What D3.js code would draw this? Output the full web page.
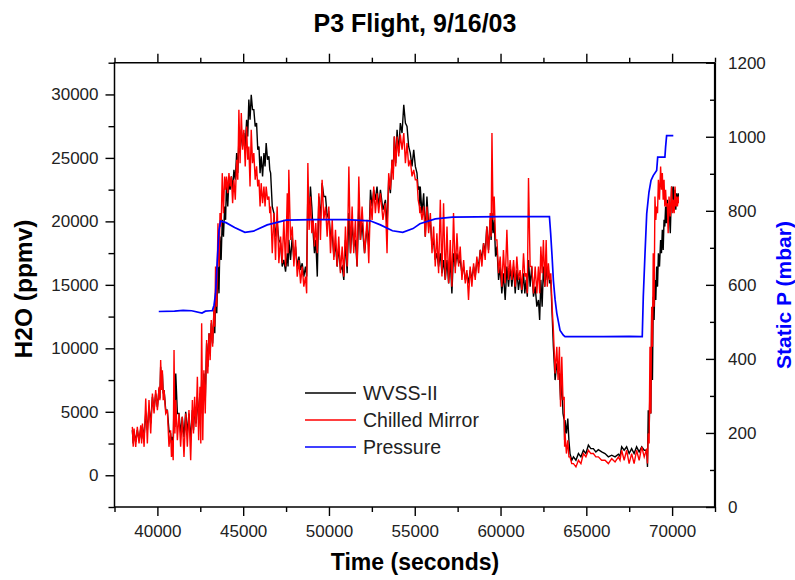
<!DOCTYPE html>
<html>
<head>
<meta charset="utf-8">
<script src="https://cdn.jsdelivr.net/npm/d3@7"></script>
<style>
  body { margin: 0; background: #fff; }
  text { font-family: "Liberation Sans", Arial, sans-serif; }
</style>
</head>
<body>
<div id="chart"></div>
<script>
// Sample times (seconds). Each sample keeps the top and bottom of the noisy trace there.
const time = [
  38540, 38640, 38830, 39030, 39130, 39320, 39510, 39710, 39900, 40100, 40190, 40290, 40390, 40580, 40770, 40870, 40970, 41070, 41260, 41450,
  41650, 41840, 42040, 42170, 42330, 42480, 42580, 42710, 42870, 43010, 43140, 43300, 43390, 43530, 43650, 43780, 43920, 44030, 44170, 44310,
  44460, 44620, 44750, 44890, 45040, 45200, 45330, 45470, 45620, 45780, 45920, 46050, 46210, 46340, 46500,
  46600, 46790, 46980, 47180, 47370, 47570, 47660, 47860, 48050, 48250, 48440, 48630, 48770, 48920, 49080, 49230, 49410, 49600, 49800, 49990,
  50190, 50380, 50570, 50770, 50960, 51160, 51350, 51540, 51740, 51930, 52220, 52420, 52610, 52800, 53000, 53290, 53480, 53680, 53810, 53970,
  54160, 54360, 54550, 54740, 54940, 55130, 55270,
  55320, 55520, 55710, 55910, 56100, 56290, 56490, 56680, 56880, 57070, 57260, 57460, 57650, 57850, 58040, 58230, 58430, 58620, 58820, 59010,
  59200, 59400, 59500, 59630, 59790, 59980, 60170, 60370, 60560, 60760, 60950, 61140, 61340, 61490, 61630, 61820, 62020, 62210, 62350, 62500,
  62660, 62790, 62930, 63080, 63280, 63430, 63570, 63710,
  63760, 63920, 64050, 64250, 64540, 64830, 65120, 65410, 65700, 66090, 66480, 66870, 67060, 67350, 67640, 67930, 68230, 68520, 68610, 68710,
  68810, 68900, 69000, 69100, 69200, 69330, 69430, 69530, 69620, 69720, 69820, 69970, 70070, 70170, 70260, 70360
]

// WVSS-II (ppmv)
const wvssHigh = [
  3550, 3420, 3550, 3680, 3810, 4870, 5390, 6180, 6440, 6840, 8550, 8020, 6710, 5130, 3290, 3020, 5920, 8020, 4870, 4600,
  5000, 4870, 5130, 5390, 6180, 6440, 7500, 8020, 10390, 11180, 11970, 13020, 14330, 16440, 18800, 20120, 21170, 23280, 23280, 23540,
  24060, 25380, 26430, 27220, 26960, 28010, 29590, 29980, 28800, 27750, 25900, 25120, 25380, 26170, 25120,
  23800, 20650, 19860, 18280, 16960, 17490, 18540, 18800, 18020, 17230, 16700, 16440, 22490, 22750, 19070, 18540, 21960, 23010, 21960, 20650,
  19070, 18280, 18020, 16440, 18540, 20650, 19860, 18540, 21170, 19860, 19590, 22490, 22490, 22750, 22490, 21700, 23280, 24850, 26690, 27220,
  27750, 29190, 27480, 25380, 25640, 23800, 22750,
  22750, 22220, 21960, 20120, 18540, 17490, 17490, 16960, 16960, 16960, 17490, 17490, 16960, 16440, 15910, 16170, 16440, 16960, 17750, 18280,
  19590, 20120, 20650, 20120, 18020, 16440, 15910, 16440, 16440, 16440, 16170, 15650, 15910, 15390, 16960, 16440, 14860, 13810, 15390, 16440,
  16440, 16170, 15390, 10130, 8810, 8020, 7500, 4340,
  4340, 4470, 1710, 1450, 1710, 1970, 2370, 2100, 2020, 1710, 1580, 1660, 2240, 2240, 2100, 2240, 2240, 1970, 5130, 6970,
  12760, 14070, 15390, 16440, 17490, 18540, 19330, 20120, 21170, 21700, 21170, 22750, 22750, 22490, 22220, 22220
]
const wvssLow = [
  2500, 2630, 2760, 2890, 3020, 3550, 4080, 5130, 5390, 6050, 6970, 6440, 5130, 3550, 2500, 2240, 3810, 4870, 3290, 3020,
  3290, 2760, 3550, 4080, 4340, 4870, 5130, 5920, 8550, 9600, 10390, 11180, 12760, 14330, 16960, 18800, 20120, 21170, 22490, 22490,
  23280, 23800, 25380, 25900, 25900, 26690, 28010, 28800, 27480, 25640, 23800, 23540, 24330, 24850, 24060,
  21170, 18800, 18540, 16440, 16040, 16440, 16960, 16960, 16440, 16170, 15650, 15650, 20120, 21170, 17490, 15650, 20120, 21960, 20380, 18800,
  17230, 16440, 16170, 15390, 15910, 17490, 18020, 16440, 18540, 17490, 18020, 21170, 21700, 21170, 20910, 19590, 22220, 23800, 24590, 25380,
  26960, 27750, 25900, 24330, 24330, 22490, 21170,
  20650, 18800, 19590, 18020, 16960, 16440, 15910, 15390, 15120, 14330, 16440, 16700, 15910, 15390, 15120, 15390, 15650, 16440, 16960, 17490,
  17750, 18540, 19070, 17230, 15390, 14330, 13810, 14860, 14860, 14330, 14600, 14330, 14330, 14070, 14860, 14070, 13280, 12230, 13280, 14860,
  15390, 15120, 12760, 7500, 8020, 5920, 4870, 2760,
  3290, 2760, 1180, 1180, 1450, 1710, 2100, 1840, 1840, 1450, 1450, 1500, 1970, 1710, 1710, 1840, 1970, 660, 3290, 4870,
  7500, 12230, 13810, 14860, 16440, 17490, 17750, 19590, 19860, 20120, 19070, 21700, 21170, 20910, 21430, 21700
]

// Chilled Mirror (ppmv)
const mirrorHigh = [
  3810, 3680, 3810, 3940, 4080, 6050, 5920, 6440, 6710, 6970, 9070, 8280, 6710, 5130, 3550, 2760, 9860, 5920, 4870, 4600,
  4870, 5130, 5920, 6180, 7760, 6970, 11970, 8280, 10650, 11180, 12230, 13280, 16440, 19860, 20650, 23800, 23540, 23540, 23800, 23540,
  23280, 24850, 28800, 28540, 27220, 27480, 25900, 27220, 25380, 24330, 23280, 23010, 22750, 22750, 21960,
  21170, 20650, 21170, 18800, 20120, 22220, 24060, 19590, 18540, 16960, 16440, 15650, 24590, 21960, 20120, 19860, 22220, 23280, 21170, 21170,
  20120, 19330, 18800, 18020, 19590, 24330, 21170, 20120, 23540, 21170, 20120, 21700, 22750, 22220, 22220, 21430, 23800, 24850, 26690, 26690,
  26830, 26960, 26170, 24850, 24060, 23280, 21170,
  21170, 21170, 21170, 20650, 19590, 19070, 21700, 21430, 19590, 18540, 20650, 19070, 18020, 16960, 16170, 16440, 16700, 17230, 17750, 18280,
  19590, 20650, 26960, 21960, 18540, 17230, 17750, 19330, 16960, 16960, 17230, 16170, 17490, 15910, 23410, 16440, 16440, 16440, 18020, 18540,
  18540, 16700, 15910, 11440, 10130, 10130, 9340, 6180,
  3290, 2760, 1450, 920, 1180, 1710, 1970, 1710, 1450, 1180, 1310, 1450, 1970, 1970, 1710, 1970, 2240, 2100, 3290, 10130,
  13280, 17490, 21960, 21170, 23280, 24330, 23800, 23280, 22490, 21430, 21960, 22750, 21700, 22750, 21960, 21960
]
const mirrorLow = [
  2240, 2240, 2500, 2500, 2240, 2500, 3290, 4870, 5130, 5920, 6710, 5920, 4870, 2240, 1450, 1180, 3290, 2760, 2240, 1450,
  2240, 1180, 3290, 3810, 2760, 2500, 2760, 4870, 8020, 9070, 10130, 11700, 13280, 16440, 19590, 20650, 22490, 22220, 22750, 21430,
  21700, 23280, 24590, 25640, 24330, 24850, 22750, 24590, 23280, 22750, 21170, 21430, 21170, 21700, 20650,
  17490, 16960, 16700, 16700, 16440, 17490, 18540, 16440, 15650, 15120, 14860, 14330, 19330, 19070, 18020, 17490, 18540, 20120, 18800, 17490,
  16960, 16440, 15910, 15650, 16440, 17490, 17490, 16440, 18540, 17490, 16700, 20120, 20650, 20650, 20120, 17490, 22490, 23280, 24330, 25120,
  25640, 24590, 24330, 23540, 23280, 21700, 20650,
  20120, 18800, 19070, 17490, 16440, 15910, 15650, 15390, 15120, 14860, 15910, 16440, 15390, 15120, 13810, 14860, 15390, 15910, 16440, 16960,
  17490, 18800, 20120, 18540, 15910, 14860, 15120, 15390, 15390, 14860, 15390, 14600, 15650, 14330, 16440, 14330, 14330, 14330, 15910, 14860,
  14860, 15390, 13280, 8020, 7500, 5390, 5920, 2240,
  1710, 1450, 920, 660, 920, 1450, 1710, 1450, 1180, 920, 1050, 1180, 1180, 920, 920, 1180, 1450, 920, 2500, 4870,
  10130, 13280, 20120, 20650, 21700, 22490, 21700, 21170, 21170, 19070, 20380, 20650, 20650, 21170, 21170, 21430
]

// Static pressure (mbar)
const presTime = [
  40080, 41000, 41500, 42000, 42600, 42800, 43100, 43200, 43300, 43390, 43490, 43590, 43680, 44000, 44500, 45100, 45600, 46400, 47500, 49000,
  51000, 52400, 53000, 53700, 54300, 54900, 55300, 56200, 57200, 60000, 62850, 62920, 63000, 63080, 63180, 63280, 63470, 63660, 63760, 66000,
  67500, 68260, 68320, 68420, 68520, 68650, 68770, 68900, 69100, 69160, 69580, 69620, 69680, 70070
]
const presVal = [
  528, 529, 531, 530, 524, 529, 530, 530, 545, 576, 666, 747, 772, 768, 755, 742, 745, 762, 775, 776,
  776, 773, 762, 746, 742, 752, 765, 778, 783, 784, 784, 740, 680, 612, 560, 523, 477, 464, 460, 460,
  461, 460, 567, 684, 792, 850, 882, 895, 909, 945, 945, 972, 1003, 1003
]

const timeTicks = [40000, 45000, 50000, 55000, 60000, 65000, 70000]
const timeMinor = [37500, 42500, 47500, 52500, 57500, 62500, 67500, 72500]
const h2oTicks = [0, 5000, 10000, 15000, 20000, 25000, 30000]
const h2oMinor = [-2500, 2500, 7500, 12500, 17500, 22500, 27500, 32500]
const presTicks = [0, 200, 400, 600, 800, 1000, 1200]
const presMinor = [100, 300, 500, 700, 900, 1100]

const legendItems = [
  {name: "WVSS-II", color: "#000000"},
  {name: "Chilled Mirror", color: "#ff0000"},
  {name: "Pressure", color: "#0000ff"}
]

const width = 795, height = 580
const plot = {left: 114.5, right: 715, top: 62.7, bottom: 507}

const svg = d3.select("#chart").append("svg")
  .attr("width", width)
  .attr("height", height)

const x = d3.scaleLinear().domain([37500, 72500]).range([plot.left, plot.right])
const yL = d3.scaleLinear().domain([-2500, 32500]).range([plot.bottom, plot.top])
const yR = d3.scaleLinear().domain([0, 1200]).range([plot.bottom, plot.top])

// zigzag between top and bottom of the trace at each sample
function tracePoints(hi, lo) {
  const pts = []
  time.forEach((t, i) => {
    const next = i < time.length - 1 ? time[i + 1] : t
    pts.push([x(t), yL(hi[i])])
    pts.push([x((t + next) / 2), yL(lo[i])])
  })
  return pts
}

const line = d3.line()

svg.append("path")
  .attr("d", line(tracePoints(wvssHigh, wvssLow)))
  .attr("fill", "none")
  .attr("stroke", "#000")
  .attr("stroke-width", 1.4)

svg.append("path")
  .attr("d", line(tracePoints(mirrorHigh, mirrorLow)))
  .attr("fill", "none")
  .attr("stroke", "#ff0000")
  .attr("stroke-width", 1.4)

svg.append("path")
  .attr("d", d3.line().x(d => x(d[0])).y(d => yR(d[1]))(presTime.map((t, i) => [t, presVal[i]])))
  .attr("fill", "none")
  .attr("stroke", "#0000ff")
  .attr("stroke-width", 1.7)

// Axes
function styleAxis(g) {
  g.select(".domain").remove()
  g.selectAll(".tick line").attr("stroke", "#000").attr("stroke-width", 1.4)
  g.selectAll(".tick text")
    .attr("font-size", 17)
    .attr("fill", "#222")
    .style("font-family", "'Liberation Sans', Arial, sans-serif")
}

svg.append("g")
  .attr("transform", "translate(0," + plot.bottom + ")")
  .call(d3.axisBottom(x).tickValues(timeTicks).tickSize(9).tickPadding(9).tickFormat(d3.format("d")))
  .call(styleAxis)
svg.append("g")
  .attr("transform", "translate(0," + plot.bottom + ")")
  .call(d3.axisBottom(x).tickValues(timeMinor).tickSize(5).tickFormat(""))
  .call(styleAxis)

svg.append("g")
  .attr("transform", "translate(0," + plot.top + ")")
  .call(d3.axisTop(x).tickValues(timeTicks).tickSize(9).tickFormat(""))
  .call(styleAxis)
svg.append("g")
  .attr("transform", "translate(0," + plot.top + ")")
  .call(d3.axisTop(x).tickValues(timeMinor).tickSize(5).tickFormat(""))
  .call(styleAxis)

svg.append("g")
  .attr("transform", "translate(" + plot.left + ",0)")
  .call(d3.axisLeft(yL).tickValues(h2oTicks).tickSize(9).tickPadding(7).tickFormat(d3.format("d")))
  .call(styleAxis)
svg.append("g")
  .attr("transform", "translate(" + plot.left + ",0)")
  .call(d3.axisLeft(yL).tickValues(h2oMinor).tickSize(6).tickFormat(""))
  .call(styleAxis)

svg.append("g")
  .attr("transform", "translate(" + plot.right + ",0)")
  .call(d3.axisRight(yR).tickValues(presTicks).tickSize(-9).tickPadding(13).tickFormat(d3.format("d")))
  .call(styleAxis)
svg.append("g")
  .attr("transform", "translate(" + plot.right + ",0)")
  .call(d3.axisRight(yR).tickValues(presMinor).tickSize(-5).tickFormat(""))
  .call(styleAxis)

// Frame
const frame = svg.append("g").attr("stroke", "#000").attr("fill", "none")
frame.append("path")
  .attr("d", `M${plot.right},${plot.top}H${plot.left}V${plot.bottom}H${plot.right}`)
  .attr("stroke-width", 1.5)
frame.append("path")
  .attr("d", `M${plot.right},${plot.top}V${plot.bottom}`)
  .attr("stroke-width", 2.2)

// Titles
svg.append("text")
  .attr("x", 415)
  .attr("y", 32)
  .attr("text-anchor", "middle")
  .attr("font-size", 25)
  .attr("font-weight", "bold")
  .text("P3 Flight, 9/16/03")

svg.append("text")
  .attr("x", 415)
  .attr("y", 570)
  .attr("text-anchor", "middle")
  .attr("font-size", 23)
  .attr("font-weight", "bold")
  .text("Time (seconds)")

svg.append("text")
  .attr("transform", "translate(32,289) rotate(-90)")
  .attr("text-anchor", "middle")
  .attr("font-size", 24.5)
  .attr("font-weight", "bold")
  .text("H2O (ppmv)")

svg.append("text")
  .attr("transform", "translate(791,295) rotate(-90)")
  .attr("text-anchor", "middle")
  .attr("font-size", 21)
  .attr("font-weight", "bold")
  .attr("fill", "#0000ff")
  .text("Static P (mbar)")

// Legend
const legend = svg.append("g").attr("transform", "translate(305,393)")
legendItems.forEach((d, i) => {
  const row = legend.append("g").attr("transform", "translate(0," + (i * 27) + ")")
  row.append("line")
    .attr("x1", 0).attr("x2", 51)
    .attr("stroke", d.color)
    .attr("stroke-width", 1.3)
  row.append("text")
    .attr("x", 58)
    .attr("y", 7)
    .attr("font-size", 19.5)
    .attr("fill", "#222")
    .text(d.name)
})
</script>
</body>
</html>
